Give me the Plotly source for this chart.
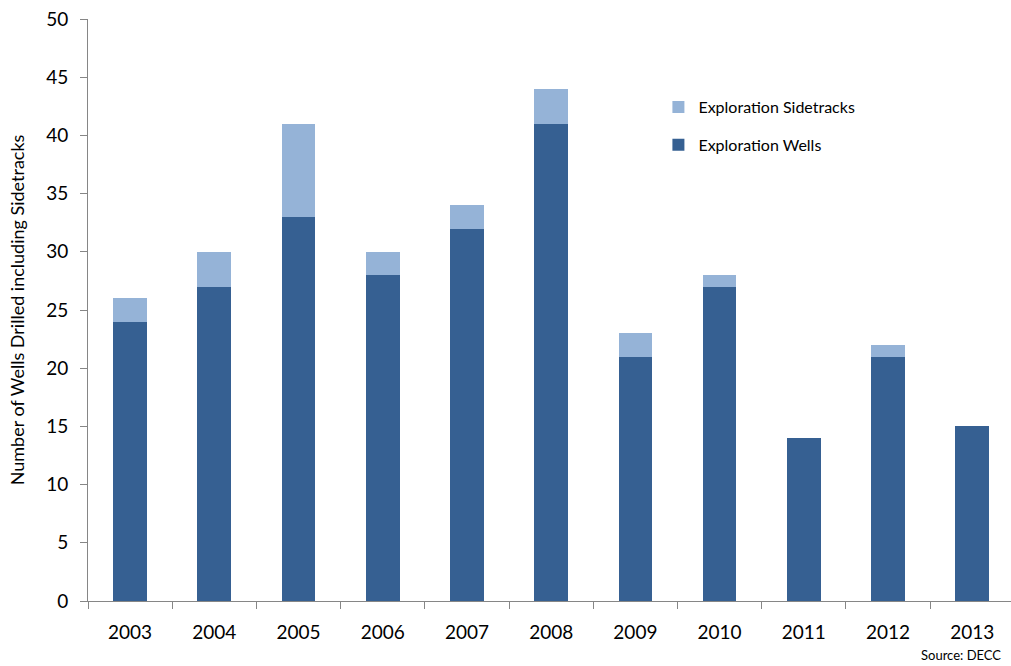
import plotly.graph_objects as go

years = ["2003", "2004", "2005", "2006", "2007", "2008", "2009", "2010", "2011", "2012", "2013"]
wells = [24, 27, 33, 28, 32, 41, 21, 27, 14, 21, 15]
sidetracks = [2, 3, 8, 2, 2, 3, 2, 1, 0, 1, 0]
y_ticks = [0, 5, 10, 15, 20, 25, 30, 35, 40, 45, 50]

FONT = "Lato, 'Open Sans', sans-serif"
AXIS = "#868686"

fig = go.Figure()
fig.add_trace(go.Bar(x=years, y=wells, name="Exploration Wells",
                     marker=dict(color="#366092", line=dict(width=0)),
                     legendgroup="w", legendrank=2, width=0.4))
fig.add_trace(go.Bar(x=years, y=sidetracks, name="Exploration Sidetracks",
                     marker=dict(color="#95B3D7", line=dict(width=0)),
                     legendgroup="s", legendrank=1, width=0.4))

fig.update_layout(
    barmode="stack",
    width=1011, height=666,
    margin=dict(l=88, r=0, t=19, b=65),
    plot_bgcolor="white", paper_bgcolor="white",
    font=dict(family=FONT, color="#000000", size=18),
    showlegend=True,
    legend=dict(x=0.618, y=0.878, xanchor="left", yanchor="top",
                traceorder="grouped", tracegroupgap=14,
                font=dict(size=16, family=FONT), bgcolor="rgba(0,0,0,0)",
                itemwidth=30),
    xaxis=dict(type="category", range=[-0.5, 10.46], tickson="boundaries",
               ticks="outside", ticklen=7, tickcolor=AXIS,
               showline=True, linecolor=AXIS, linewidth=1,
               showgrid=False, ticklabelstandoff=14,
               tickfont=dict(size=19, family=FONT)),
    yaxis=dict(range=[0, 50], tickvals=y_ticks, ticks="outside", ticklen=7,
               tickcolor=AXIS, showline=True, linecolor=AXIS, linewidth=1,
               showgrid=False, zeroline=False, ticklabelstandoff=8,
               tickfont=dict(size=19, family=FONT),
               title=dict(text="Number of Wells Drilled including Sidetracks",
                          font=dict(size=18, family=FONT), standoff=16)),
    annotations=[dict(text="Source: DECC", x=(1003 - 88) / 923, y=-(655 - 601) / 582,
                      xref="paper", yref="paper",
                      showarrow=False, font=dict(size=13, family=FONT),
                      xanchor="right", yanchor="middle")],
)

fig.write_html("out.html")
